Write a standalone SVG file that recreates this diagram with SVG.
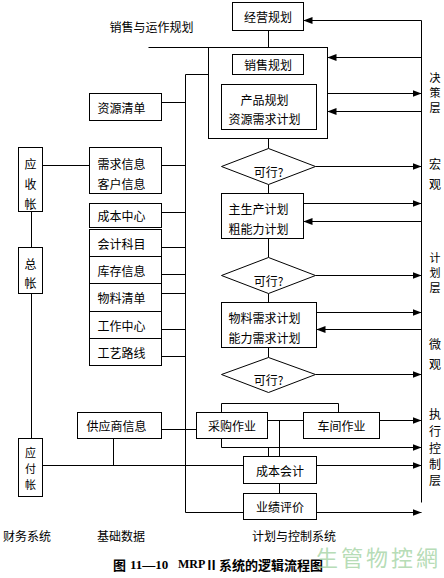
<svg xmlns="http://www.w3.org/2000/svg" width="444" height="578" viewBox="0 0 444 578">
<style>
.bx{fill:#fff;stroke:#000;stroke-width:1}
.ln{fill:none;stroke:#000;stroke-width:1}
text{font-family:"Noto Sans CJK SC","Noto Sans CJK JP",sans-serif;font-size:12px;fill:#000;dominant-baseline:central}
.m{text-anchor:middle}
.s{font-size:11px}
</style>
<defs>
<marker id="ah" markerUnits="userSpaceOnUse" markerWidth="9" markerHeight="7" refX="9" refY="3.5" orient="auto">
<path d="M0,0 L9,3.5 L0,7 z" fill="#000"/>
</marker>
</defs>
<rect width="444" height="578" fill="#fff"/>

<g id="connectors" transform="translate(0.5,0.5)">
<path class="ln" d="M268,30V47 M268,138V148 M268,184V193 M268,238V257 M268,293V302 M268,347V357"/>
<path class="ln" d="M421,20V502"/>
<path class="ln" marker-end="url(#ah)" d="M327,93H421"/>
<path class="ln" marker-end="url(#ah)" d="M315,166H421"/>
<path class="ln" marker-end="url(#ah)" d="M303,203H421"/>
<path class="ln" marker-end="url(#ah)" d="M315,275H421"/>
<path class="ln" marker-end="url(#ah)" d="M316,312H421"/>
<path class="ln" marker-end="url(#ah)" d="M315,374H421"/>
<path class="ln" marker-end="url(#ah)" d="M379,420H421"/>
<path class="ln" marker-end="url(#ah)" d="M221,438V447H421"/>
<path class="ln" marker-end="url(#ah)" d="M316,465H421"/>
<path class="ln" marker-end="url(#ah)" d="M316,512H421"/>
<path class="ln" marker-end="url(#ah)" d="M421,20H303"/>
<path class="ln" marker-end="url(#ah)" d="M421,57H327"/>
<path class="ln" marker-end="url(#ah)" d="M421,111H327"/>
<path class="ln" marker-end="url(#ah)" d="M421,221H303"/>
<path class="ln" marker-end="url(#ah)" d="M421,329H316"/>
<path class="ln" d="M148,47H208 M185,74H208 M185,74V512H243"/>
<path class="ln" d="M161,102H185 M161,165H185 M42,165H89 M161,212H185 M161,247H185 M161,274H185 M161,293H185 M161,329H185 M161,356H185"/>
<path class="ln" d="M161,429H196 M113,438V465 M42,465H243"/>
<path class="ln" d="M31,211V247 M31,293V438"/>
<path class="ln" d="M221,412V403H338V412 M267,420H303 M279,420V456 M268,447V456 M279,483V493"/>
</g>

<g transform="translate(0.5,0.5)">
<g id="jingying"><rect class="bx" x="232" y="2" width="71" height="28"/><text class="m" x="267.5" y="16">经营规划</text></g>
<g id="outer"><rect class="bx" x="208" y="47" width="119" height="91"/></g>
<g id="xiaoshou"><rect class="bx" x="232" y="54" width="71" height="20"/><text class="m" x="267.5" y="64">销售规划</text></g>
<g id="chanpin"><rect class="bx" x="221" y="84" width="95" height="45"/><text class="m" x="264" y="99">产品规划</text><text class="m" x="264" y="118">资源需求计划</text></g>
<g id="d1"><polygon class="bx" points="221,166 268,148 315,166 268,184"/><text class="m" x="268" y="171">可行?</text></g>
<g id="zhusc"><rect class="bx" x="221" y="193" width="82" height="45"/><text x="228" y="208">主生产计划</text><text x="228" y="228">粗能力计划</text></g>
<g id="d2"><polygon class="bx" points="221,275 268,257 315,275 268,293"/><text class="m" x="268" y="280">可行?</text></g>
<g id="wuliao"><rect class="bx" x="221" y="302" width="95" height="45"/><text x="228" y="317">物料需求计划</text><text x="228" y="337">能力需求计划</text></g>
<g id="d3"><polygon class="bx" points="221,374 268,357 315,374 268,392"/><text class="m" x="268" y="379">可行?</text></g>
<g id="caigou"><rect class="bx" x="196" y="412" width="71" height="26"/><text class="m" x="231.5" y="425">采购作业</text></g>
<g id="chejian"><rect class="bx" x="303" y="412" width="76" height="26"/><text class="m" x="341" y="425">车间作业</text></g>
<g id="chengben"><rect class="bx" x="243" y="456" width="73" height="27"/><text class="m" x="279.5" y="470">成本会计</text></g>
<g id="yeji"><rect class="bx" x="243" y="493" width="73" height="26"/><text class="m" x="279.5" y="506">业绩评价</text></g>

<g id="ziyuan"><rect class="bx" x="89" y="93" width="72" height="27"/><text x="97" y="107">资源清单</text></g>
<g id="xuqiu"><rect class="bx" x="89" y="147" width="72" height="46"/><text x="97" y="163">需求信息</text><text x="97" y="183">客户信息</text></g>
<g id="cbzx"><rect class="bx" x="89" y="203" width="72" height="24"/><text x="97" y="215">成本中心</text></g>
<g id="kjkm"><rect class="bx" x="89" y="229" width="72" height="27"/><text x="97" y="243">会计科目</text></g>
<g id="kcxx"><rect class="bx" x="89" y="256" width="72" height="27"/><text x="97" y="270">库存信息</text></g>
<g id="wlqd"><rect class="bx" x="89" y="283" width="72" height="28"/><text x="97" y="297">物料清单</text></g>
<g id="gzzx"><rect class="bx" x="89" y="311" width="72" height="27"/><text x="97" y="325">工作中心</text></g>
<g id="gylx"><rect class="bx" x="89" y="338" width="72" height="27"/><text x="97" y="352">工艺路线</text></g>
<g id="gys"><rect class="bx" x="77" y="412" width="84" height="26"/><text x="86" y="425">供应商信息</text></g>

<g id="yingshou"><rect class="bx" x="18" y="147" width="24" height="64"/><text class="m" x="30" y="163">应</text><text class="m" x="30" y="183">收</text><text class="m" x="30" y="203">帐</text></g>
<g id="zongzhang"><rect class="bx" x="18" y="247" width="24" height="46"/><text class="m" x="30" y="263">总</text><text class="m" x="30" y="282">帐</text></g>
<g id="yingfu"><rect class="bx" x="18" y="438" width="24" height="58"/><text class="m s" x="30" y="451">应</text><text class="m s" x="30" y="467">付</text><text class="m s" x="30" y="483">帐</text></g>
</g>

<g id="labels">
<text class="m" x="151.5" y="26">销售与运作规划</text>
<text class="m s" x="435" y="77">决</text><text class="m s" x="435" y="92">策</text><text class="m s" x="435" y="107">层</text>
<text class="m" x="435" y="163">宏</text><text class="m" x="435" y="183">观</text>
<text class="m s" x="435" y="257">计</text><text class="m s" x="435" y="272">划</text><text class="m s" x="435" y="287">层</text>
<text class="m" x="435" y="343">微</text><text class="m" x="435" y="363">观</text>
<text class="m" x="435" y="413">执</text><text class="m" x="435" y="430">行</text><text class="m" x="435" y="447">控</text><text class="m" x="435" y="463">制</text><text class="m" x="435" y="479">层</text>
<text x="3" y="535">财务系统</text>
<text x="97" y="535">基础数据</text>
<text x="252" y="535">计划与控制系统</text>
<text y="564" style="font-size:13px;font-weight:bold;font-family:'Liberation Serif','Noto Sans CJK SC',serif"><tspan x="113" style="font-family:'Noto Sans CJK SC',sans-serif">图</tspan><tspan x="130">11—10</tspan><tspan x="178" style="font-size:12px">MRP</tspan><tspan x="205" style="font-family:'Noto Sans CJK SC',sans-serif">Ⅱ</tspan><tspan x="219" style="font-family:'Noto Sans CJK SC',sans-serif">系统的逻辑流程图</tspan></text>
<text x="316" y="556" style="font-size:22px;letter-spacing:3px;fill:#a3d3a3;fill-opacity:0.8;font-family:'Noto Sans CJK TC',sans-serif">生管物控網</text>
</g>
</svg>
